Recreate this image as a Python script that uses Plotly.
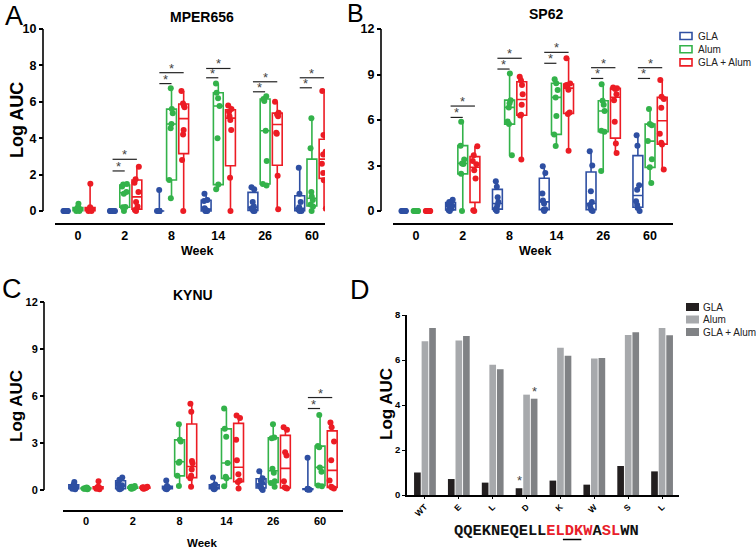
import numpy as np
import plotly.graph_objects as go

W, H = 756, 551
def px(x): return x / W
def py(y): return 1 - y / H

weeks = ["0", "2", "8", "14", "26", "60"]
series = ["GLA", "Alum", "GLA + Alum"]
colors = ["#2E4FA2", "#33B24A", "#EC1C24"]

# Panel A  MPER656 (Log AUC per animal, weeks 0,2,8,14,26,60)
A_GLA = [[0, 0, 0, 0, 0, 0, 0, 0],
         [0, 0, 0, 0, 0, 0, 0, 0],
         [0, 0, 0, 0, 0, 0, 0, 1.15],
         [0, 0, 0, 0.05, 0.15, 0.55, 0.6, 0.95],
         [0, 0, 0.1, 0.15, 0.25, 0.5, 1.2, 1.3],
         [0, 0, 0.05, 0.1, 0.2, 0.5, 0.95, 2.37]]
A_Alum = [[0, 0, 0.05, 0.1, 0.1, 0.15, 0.2, 0.4],
          [0, 0.2, 0.22, 0.95, 1.05, 1.35, 1.45, 1.48],
          [0.7, 1.7, 4.54, 4.78, 5.37, 5.6, 6.74],
          [1.2, 1.45, 4.0, 5.77, 6.2, 6.5, 7.0],
          [1.4, 1.48, 2.75, 4.41, 6.05, 6.15, 6.3],
          [0, 0.25, 0.35, 0.6, 0.8, 1.05, 3.45, 5.1]]
A_Combo = [[0, 0, 0.05, 0.1, 0.1, 0.15, 0.2, 1.5],
           [0, 0.05, 0.25, 0.5, 1.05, 1.55, 1.75, 2.43],
           [0, 2.8, 4.2, 4.45, 5.7, 5.8, 5.9, 6.6],
           [0, 1.83, 4.45, 5.0, 5.2, 5.45, 5.6, 5.8],
           [0.1, 1.93, 4.25, 4.3, 5.2, 5.3, 5.4, 6.0],
           [0.13, 1.69, 2.09, 2.6, 3.1, 3.25, 4.17, 6.6]]

# Panel B  SP62
B_GLA = [[0, 0, 0, 0, 0, 0, 0, 0],
         [0, 0.05, 0.15, 0.25, 0.35, 0.45, 0.6, 0.75],
         [0, 0.1, 0.2, 0.4, 0.6, 0.9, 1.6, 1.96],
         [0, 0.08, 0.12, 0.5, 0.7, 1.15, 2.5, 2.95],
         [0, 0.05, 0.2, 0.4, 0.6, 1.3, 3.0, 3.94],
         [0, 0.2, 0.4, 0.64, 1.4, 1.7, 4.3, 5.0]]
B_Alum = [[0, 0, 0, 0, 0, 0, 0, 0],
          [0, 2.45, 3.1, 3.14, 3.4, 4.31, 5.89],
          [3.68, 5.73, 5.9, 6.83, 7.1, 7.31, 9.07],
          [4.28, 5.05, 6.26, 7.49, 7.98, 8.42, 8.68],
          [2.64, 5.23, 5.3, 6.59, 7.0, 7.27, 8.35],
          [1.85, 2.88, 3.42, 4.61, 5.66, 5.73, 6.72]]
B_Combo = [[0, 0, 0, 0, 0, 0, 0, 0],
           [0, 0.05, 2.14, 2.69, 3.08, 3.3, 3.68, 4.27],
           [3.4, 6.3, 6.35, 7.0, 7.7, 8.3, 8.6, 8.85],
           [3.97, 6.4, 6.5, 8.0, 8.2, 8.3, 8.4, 10.07],
           [3.83, 4.45, 5.88, 7.3, 7.7, 8.05, 8.1, 8.15],
           [2.73, 4.38, 4.5, 5.1, 6.8, 7.38, 7.53, 8.63]]

# Panel C  KYNU
C_GLA = [[0.05, 0.08, 0.1, 0.15, 0.2, 0.25, 0.35, 0.5],
         [0.05, 0.08, 0.1, 0.2, 0.3, 0.4, 0.65, 0.8],
         [0.05, 0.08, 0.1, 0.12, 0.15, 0.18, 0.25, 0.6],
         [0.05, 0.08, 0.1, 0.15, 0.2, 0.25, 0.35, 0.8],
         [0, 0.1, 0.2, 0.3, 0.45, 0.6, 0.75, 1.2],
         [0.02, 0.03, 0.04, 0.05, 0.05, 0.06, 0.08, 2.05]]
C_Alum = [[0.05, 0.07, 0.08, 0.1, 0.1, 0.12, 0.13, 0.15],
          [0.08, 0.1, 0.12, 0.14, 0.15, 0.17, 0.2, 0.25],
          [0.26, 0.9, 1.74, 1.8, 3.1, 3.2, 4.19],
          [0.23, 0.74, 0.85, 1.72, 3.4, 3.9, 5.2],
          [0.2, 0.45, 0.55, 1.1, 1.35, 3.3, 3.35, 4.2],
          [0.23, 0.28, 1.17, 1.44, 2.72, 2.8, 4.78]]
C_Combo = [[0.05, 0.08, 0.1, 0.12, 0.15, 0.18, 0.2, 0.55],
           [0.08, 0.1, 0.12, 0.13, 0.15, 0.16, 0.18, 0.2],
           [0.2, 0.75, 0.9, 1.3, 1.7, 1.85, 5.0, 5.5],
           [0.1, 0.5, 0.6, 1.0, 1.9, 3.2, 4.6, 4.75],
           [0.1, 0.12, 0.17, 0.55, 2.2, 2.4, 3.85, 4.0],
           [0.1, 0.15, 0.2, 0.6, 1.9, 3.1, 4.0, 4.3]]

# significance brackets: week index, height GLA-Alum, height GLA-(GLA+Alum)
A_sig_weeks = [1, 2, 3, 4, 5]
A_sig_low = [2.2, 7.0, 7.32, 6.55, 6.77]
A_sig_high = [2.84, 7.6, 7.83, 7.1, 7.32]
B_sig_weeks = [1, 2, 3, 4, 5]
B_sig_low = [6.17, 9.36, 9.74, 8.74, 8.74]
B_sig_high = [6.92, 10.07, 10.46, 9.45, 9.45]
C_sig_weeks = [5]
C_sig_low = [5.2]
C_sig_high = [5.9]

# Panel D  mutant peptides
D_labels = ["WT", "E", "L", "D", "K", "W", "S", "L"]
D_GLA = [1.0, 0.71, 0.55, 0.30, 0.64, 0.46, 1.29, 1.05]
D_Alum = [6.83, 6.87, 5.79, 4.46, 6.55, 6.07, 7.11, 7.42]
D_Combo = [7.42, 7.07, 5.59, 4.28, 6.19, 6.09, 7.23, 7.10]
D_star_index = 3
D_colors = ["#231F20", "#A7A9AC", "#808285"]
sequence = "QQEKNEQELLELDKWASLWN"
red_positions = [10, 11, 12, 13, 14, 16, 17]
underline_positions = [12, 13]

fig = go.Figure()
offsets = [-0.26, 0.0, 0.26]
BOXW = 0.21
FONT = "Liberation Sans, Arial, sans-serif"

panels = [
    ("x", "y", [A_GLA, A_Alum, A_Combo], A_sig_weeks, A_sig_low, A_sig_high),
    ("x2", "y2", [B_GLA, B_Alum, B_Combo], B_sig_weeks, B_sig_low, B_sig_high),
    ("x3", "y3", [C_GLA, C_Alum, C_Combo], C_sig_weeks, C_sig_low, C_sig_high),
]

shapes = []
annotations = []

for xa, ya, data, sw, slo, shi in panels:
    for s in range(3):
        groups = data[s]
        pos = [i + offsets[s] for i in range(len(weeks))]
        q1 = [float(np.percentile(g, 25, method="weibull")) for g in groups]
        med = [float(np.percentile(g, 50, method="weibull")) for g in groups]
        q3 = [float(np.percentile(g, 75, method="weibull")) for g in groups]
        lo = [float(min(g)) for g in groups]
        hi = [float(max(g)) for g in groups]
        fig.add_trace(go.Box(
            x=pos, q1=q1, median=med, q3=q3, lowerfence=lo, upperfence=hi,
            width=BOXW, whiskerwidth=0, boxpoints=False,
            line=dict(color=colors[s], width=1.6), fillcolor="white",
            name=series[s], showlegend=False,
            xaxis=xa, yaxis=ya, hoverinfo="skip"))
        lx, ly = [], []
        for i, g in enumerate(groups):
            lx += [pos[i]] * len(g)
            ly += list(g)
        fig.add_trace(go.Box(
            x=lx, y=ly, width=BOXW, boxpoints="all", jitter=0.55, pointpos=0,
            line=dict(color="rgba(0,0,0,0)", width=0), fillcolor="rgba(0,0,0,0)",
            marker=dict(color=colors[s], size=6), showlegend=False, name=series[s],
            xaxis=xa, yaxis=ya, hoverinfo="skip"))
    for w, hl, hh in zip(sw, slo, shi):
        for h, s2 in ((hl, 1), (hh, 2)):
            x0, x1 = w + offsets[0], w + offsets[s2]
            shapes.append(dict(type="line", xref=xa, yref=ya, x0=x0, x1=x1, y0=h, y1=h,
                               line=dict(color="#222222", width=1.2)))
            annotations.append(dict(xref=xa, yref=ya, x=(x0 + x1) / 2, y=h, text="*",
                                    showarrow=False, yanchor="bottom", yshift=-5,
                                    font=dict(family=FONT, size=13, color="#444444")))

# panel D bars
for vals, nm, c in zip([D_GLA, D_Alum, D_Combo], series, D_colors):
    fig.add_trace(go.Bar(x=list(range(len(D_labels))), y=vals, name=nm, marker_color=c,
                         marker_line_width=0, xaxis="x4", yaxis="y4", showlegend=False,
                         hoverinfo="skip"))
BARGAP = 0.33
slot = (1 - BARGAP) / 3
for v, k in ((D_GLA[D_star_index], -1), (D_Combo[D_star_index], 1)):
    annotations.append(dict(xref="x4", yref="y4", x=D_star_index + k * slot, y=v, text="*",
                            showarrow=False, yanchor="bottom", yshift=-2,
                            font=dict(family=FONT, size=13, color="#444444")))

# axis lines drawn GraphPad-style (offset y axes)
for ya, xpos, top in (("y", 43, 10), ("y2", 381, 12), ("y3", 44, 12)):
    shapes.append(dict(type="line", xref="paper", yref=ya, x0=px(xpos), x1=px(xpos),
                       y0=0, y1=top, line=dict(color="black", width=1.6)))

tick_bold = dict(family=FONT, color="black", weight="bold")
def xcat(dom, rng, size):
    return dict(domain=[px(dom[0]), px(dom[1])], range=rng, showline=True, linecolor="black",
                linewidth=2, ticks="", automargin=False,
                tickvals=list(range(len(weeks))), ticktext=weeks, showgrid=False,
                zeroline=False, tickfont=dict(size=size, **tick_bold))
def yfree(dom, rng, pos, dt, top, size):
    return dict(domain=[py(dom[0]), py(dom[1])], range=rng, anchor="free", position=px(pos),
                showline=False, ticks="outside", ticklen=4, tickwidth=1.5, tickcolor="black",
                automargin=False,
                tickvals=list(np.arange(0, top + dt / 2, dt)), showgrid=False, zeroline=False,
                tickfont=dict(size=size, **tick_bold))

layout = dict(
    template="none",
    width=W, height=H, margin=dict(l=0, r=0, t=0, b=0, autoexpand=False),
    paper_bgcolor="white", plot_bgcolor="rgba(0,0,0,0)", showlegend=False,
    boxmode="overlay", barmode="group", bargap=BARGAP, bargroupgap=0.12,
    xaxis=dict(anchor="y", **xcat((55, 325), [-0.49, 5.28], 12.5)),
    yaxis=yfree((223, 29), [-0.66, 10], 43, 2, 10, 12.5),
    xaxis2=dict(anchor="y2", **xcat((393, 673), [-0.49, 5.49], 12.5)),
    yaxis2=yfree((223, 29), [-0.79, 12], 381, 3, 12, 12.5),
    xaxis3=dict(anchor="y3", **xcat((63, 343), [-0.49, 5.49], 11)),
    yaxis3=yfree((510, 302), [-1.28, 12], 44, 3, 12, 11),
    xaxis4=dict(anchor="y4", domain=[px(407), px(679)], range=[-0.53, 7.5], showline=True,
                linecolor="black", linewidth=1.5, ticks="outside", ticklen=2, tickcolor="black",
                automargin=False,
                tickvals=list(range(len(D_labels))), ticktext=D_labels, tickangle=-45,
                showgrid=False, zeroline=False, tickfont=dict(size=8.5, **tick_bold)),
    yaxis4=dict(anchor="x4", domain=[py(495), py(315)], range=[0, 8], showline=True,
                linecolor="black", linewidth=1.5, ticks="outside", ticklen=3, tickcolor="black",
                automargin=False,
                tickvals=[0, 2, 4, 6, 8], showgrid=False, zeroline=False,
                tickfont=dict(size=9.5, **tick_bold)),
)

def label(x, y, text, size, bold=True, angle=0, color="black", anchor="center"):
    annotations.append(dict(xref="paper", yref="paper", x=px(x), y=py(y), text=text,
                            showarrow=False, xanchor=anchor, yanchor="middle", textangle=angle,
                            font=dict(family=FONT, size=size, color=color,
                                      weight="bold" if bold else "normal")))

# legends (panel B: outlined boxes, panel D: filled squares)
for k, (nm, c) in enumerate(zip(series, colors)):
    yc = 36 + k * 13.2
    shapes.append(dict(type="rect", xref="paper", yref="paper", x0=px(680), x1=px(692),
                       y0=py(yc + 3.5), y1=py(yc - 3.5), line=dict(color=c, width=1.6),
                       fillcolor="white"))
    label(696, yc, nm, 10, bold=False, color="#222", anchor="left")
for k, (nm, c) in enumerate(zip(series, D_colors)):
    yc = 307 + k * 12.5
    shapes.append(dict(type="rect", xref="paper", yref="paper", x0=px(686), x1=px(699),
                       y0=py(yc + 4), y1=py(yc - 4), line=dict(width=0), fillcolor=c))
    label(701, yc, nm, 10, bold=False, color="#222", anchor="left")

label(202, 17, "MPER656", 14)
label(546, 14, "SP62", 14)
label(193, 295, "KYNU", 14)
label(197, 251, "Week", 12.5)
label(535, 251, "Week", 12.5)
label(202, 543, "Week", 11.5)
label(17, 120, "Log AUC", 18, angle=-90)
label(16, 406, "Log AUC", 17, angle=-90)
label(386, 404, "Log AUC", 17, angle=-90)
label(14, 16, "A", 27, bold=False)
label(355, 13, "B", 25, bold=False)
label(12, 289, "C", 27, bold=False)
label(360, 290, "D", 27, bold=False)

# peptide sequence with coloured residues
seq_font = 15.4
char_w = 0.6 * seq_font
seq_left = 452
parts = []
for i, ch in enumerate(sequence):
    parts.append("<span style='color:#E8202A'>%s</span>" % ch if i in red_positions else ch)
annotations.append(dict(xref="paper", yref="paper", x=px(seq_left), y=py(531), xanchor="left",
                        yanchor="middle", showarrow=False, text="".join(parts),
                        font=dict(family="Liberation Mono, Courier New, monospace", size=seq_font,
                                  color="#111", weight="bold")))
u0 = seq_left + min(underline_positions) * char_w
u1 = seq_left + (max(underline_positions) + 1) * char_w
shapes.append(dict(type="line", xref="paper", yref="paper", x0=px(u0), x1=px(u1),
                   y0=py(539.5), y1=py(539.5), line=dict(color="black", width=1.5)))

layout["shapes"] = shapes
layout["annotations"] = annotations
fig.update_layout(**layout)
fig.write_html("out.html", config={"displayModeBar": False},
               post_script="document.body.style.margin='0';document.body.style.overflow='hidden';")
